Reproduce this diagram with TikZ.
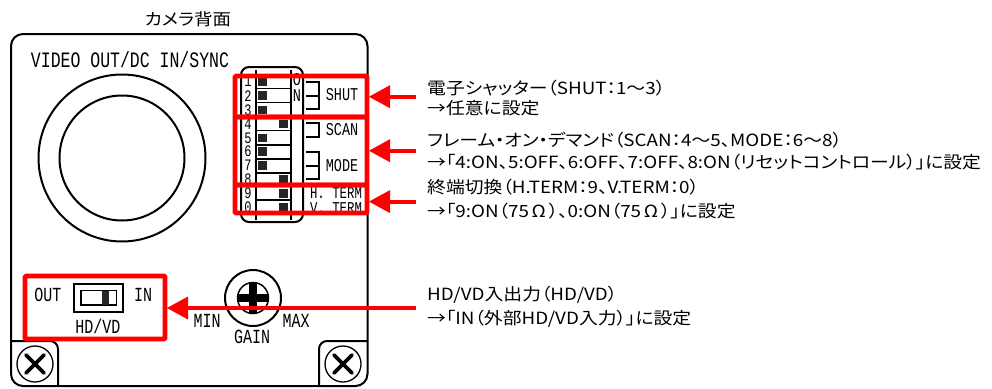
\documentclass[tikz,border=0pt]{standalone}
\usepackage{fontspec}
\setmainfont{Liberation Sans}
\newfontfamily\jpf[RawFeature={+palt},FakeStretch=1.12]{Noto Sans CJK JP}
\newfontfamily\narf[FakeStretch=0.75]{Liberation Mono}
\newcommand{\nsz}[1]{\fontsize{#1}{#1}\selectfont\narf}
\definecolor{redbox}{RGB}{255,0,0}
\tikzset{
  body/.style={draw=black,line width=2pt},
  thin line/.style={draw=black,line width=1.3pt},
  redrect/.style={draw=redbox,line width=4.6pt,rounded corners=1pt},
  redarrow/.style={draw=redbox,line width=4pt},
  redhead/.style={fill=redbox,draw=none},
  knob/.style={fill=black!85,draw=none,minimum width=8.5pt,minimum height=8.5pt,inner sep=0pt},
  panel/.style={inner sep=0pt,text=black},
  note/.style={inner sep=0pt,anchor=west,text=black,font=\fontsize{16.8}{17}\selectfont\jpf},
  title/.style={inner sep=0pt,text=black,font=\fontsize{16.5}{17}\selectfont\jpf}
}
\begin{document}
\begin{tikzpicture}[x=1pt,y=-1pt]
\useasboundingbox (0,0) rectangle (992,388);
\node[title] (title) at (188,19) {カメラ背面};
% camera body
\draw[body,rounded corners=12pt] (11,386) -- (11,34) -- (367.5,34) -- (367.5,386) -- cycle;
\node[panel,font=\nsz{22}] (video) at (130,60) {VIDEO OUT/DC IN/SYNC};
\draw[body] (122,158) circle (83.5);
\draw[body] (122,158) circle (62.5);
% corner screws
\draw[body,rounded corners=8pt] (11,341) -- (58,341) -- (58,386);
\draw[body,rounded corners=8pt] (367.5,341) -- (319,341) -- (319,386);
\foreach \cx/\nm in {35/l,343/r}{
  \draw[line width=1.3pt] (\cx,364) circle (18);
  \draw[line width=3.6pt,line cap=round] (\cx-9,355) -- (\cx+9,373) (\cx-9,373) -- (\cx+9,355);
}
% DIP switch
\draw[body,rounded corners=8pt] (241,116) -- (241,67) -- (303,67) -- (303,222) -- (241,222) -- (241,116);
\draw[thin line] (256,70) -- (256,220) (291,70) -- (291,220);
\foreach \yy in {88.3,102.3,116.7,130.7,145,159,173,186.7,200}{
  \draw[thin line] (256,\yy) -- (291,\yy);
}
\foreach \yy in {81.7,95.7,110,138,151.7,165.7}{
  \node[knob] at (262.5,\yy) {};
}
\foreach \yy in {124,179.3,193.3,207}{
  \node[knob] at (283.5,\yy) {};
}
\foreach \yy/\tx in {81.7/1,95.7/2,110/3,124/4,138/5,151.7/6,165.7/7,179.3/8,193.3/9,207/0}{
  \node[panel,font=\nsz{16}] at (248,\yy) {\tx};
}
\node[panel,font=\nsz{18}] (on0) at (297,80) {O};
\node[panel,font=\nsz{18}] (on1) at (297,96) {N};
% brackets
\draw[thin line] (306,82) -- (319,82) -- (319,109) -- (306,109) (306,96) -- (319,96);
\draw[thin line] (306,123) -- (319,123) -- (319,137) -- (306,137);
\draw[thin line] (306,152) -- (319,152) -- (319,179) -- (306,179) (306,166) -- (319,166);
\node[panel,font=\nsz{18}] (shut) at (342,94.5) {SHUT};
\node[panel,font=\nsz{18}] (scan) at (342,129.5) {SCAN};
\node[panel,font=\nsz{18}] (mode) at (342,165.5) {MODE};
\node[panel,font=\nsz{16.5}] (hterm) at (336,193) {H. TERM};
\node[panel,font=\nsz{16.5}] (vterm) at (336,208) {V. TERM};
% HD/VD
\node[panel,font=\nsz{20}] (out) at (48,295) {OUT};
\node[panel,font=\nsz{20}] (in) at (143,295) {IN};
\node[panel,font=\nsz{20}] (hdvd) at (98,326) {HD/VD};
\draw[line width=2pt] (73.5,283.5) rectangle (123,311.5);
\draw[line width=1.1pt] (81,290.5) rectangle (116.5,305);
\fill[black!85] (102,290.5) rectangle (109,305);
% gain
\draw[line width=2pt] (253,298) circle (28);
\draw[line width=1.5pt] (253,298) circle (15.5);
\draw[line width=8pt] (253,283) -- (253,313) (238,298) -- (268,298);
\node[panel,font=\nsz{20}] (min) at (207,321) {MIN};
\node[panel,font=\nsz{20}] (max) at (296,321) {MAX};
\node[panel,font=\nsz{20}] (gain) at (252,337) {GAIN};
% red boxes
\draw[redrect] (235,76) rectangle (367,117);
\draw[redrect] (235,117) rectangle (367,185);
\draw[redrect] (235,185) rectangle (367,213);
\draw[redrect] (25,276) rectangle (165,339);
% notes
\node[note] (n1a) at (427,88) {電子シャッター（SHUT：1～3）};
\node[note] (n1b) at (427,108) {→任意に設定};
\node[note] (n2a) at (427,140) {フレーム・オン・デマンド（SCAN：4～5、MODE：6～8）};
\node[note] (n2b) at (427,162) {→「4:ON、5:OFF、6:OFF、7:OFF、8:ON（リセットコントロール）」に設定};
\node[note] (n3a) at (427,187) {終端切換（H.TERM：9、V.TERM：0）};
\node[note] (n3b) at (427,211) {→「9:ON（75\,Ω\,）、0:ON（75\,Ω\,）」に設定};
\node[note] (n4a) at (427,295) {HD/VD入出力（HD/VD）};
\node[note] (n4b) at (427,319) {→「IN（外部HD/VD入力）」に設定};
% arrows
\coordinate (a1) at (416,96.7); \coordinate (t1) at (369,96.7);
\coordinate (a2) at (416,150.7); \coordinate (t2) at (369,150.7);
\coordinate (a3) at (416,201.6); \coordinate (t3) at (369,201.6);
\coordinate (a4) at (416,308); \coordinate (t4) at (167,308);
\foreach \a/\t in {a1/t1,a2/t2,a3/t3,a4/t4}{
  \draw[redarrow] (\a) -- ([xshift=10pt]\t);
  \fill[redhead] (\t) -- ([xshift=21pt,yshift=-11.5pt]\t) -- ([xshift=21pt,yshift=11.5pt]\t) -- cycle;
}
\end{tikzpicture}
\end{document}
